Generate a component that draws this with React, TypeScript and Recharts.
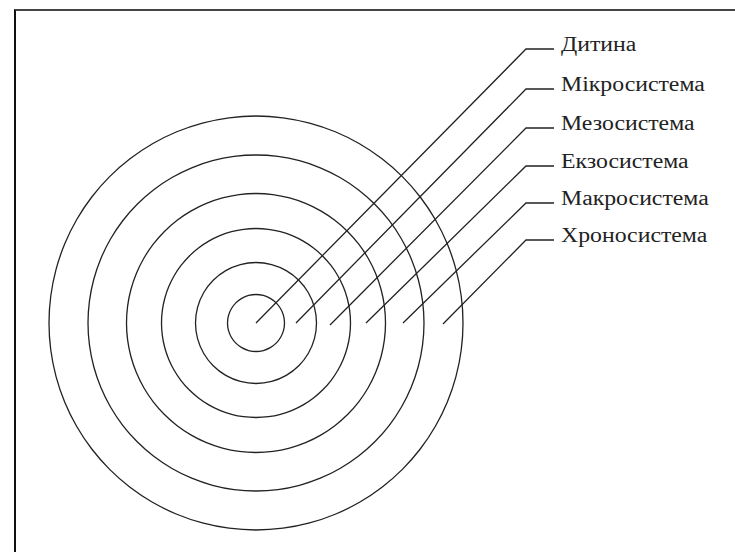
import React from "react";
import { PieChart, Pie, ComposedChart, Line, Scatter, XAxis, YAxis } from "recharts";

const W = 735;
const H = 552;

// systems from the inside out
const systems = [
  "Дитина",
  "Мікросистема",
  "Мезосистема",
  "Екзосистема",
  "Макросистема",
  "Хроносистема",
];
const ringRadii = [28.5, 60.5, 94.5, 129.5, 168, 207];

// leader lines: start on the horizontal through the centre, 45° up to the elbow, then a short tail
const leaderStartX = [0, 40, 74, 110, 147, 187];
const leaderStartY = [0, 0, -2, 0, 0, -1];
const elbowX = 270;
const elbowY = [274, 234, 195, 157, 120, 83];
const tailEndX = 298;

const xDomain = [-256, 479];
const yDomain = [-229, 323];

const INK = "#222";
const RING_HALF_WIDTH = 0.65;

const pxPerUnit = W / (xDomain[1] - xDomain[0]);
const centerX = (0 - xDomain[0]) * pxPerUnit;
const centerY = H - (0 - yDomain[0]) * (H / (yDomain[1] - yDomain[0]));

const rings = systems.map((name, i) => ({ name, r: ringRadii[i], value: 1 }));

const leaders = systems.map((name, i) => [
  { x: leaderStartX[i], y: leaderStartY[i] },
  { x: elbowX, y: elbowY[i] },
  { x: tailEndX, y: elbowY[i] },
]);

const labelData = systems.map((name, i) => ({ x: tailEndX, y: elbowY[i], name }));

const LabelShape = (props: any) => {
  const { cx, cy, payload } = props;
  return (
    <text
      transform={`translate(${cx + 7} ${cy + 1.5}) scale(1.16 1)`}
      fontFamily="'Liberation Serif', 'Times New Roman', serif"
      fontSize={20.5}
      fill={INK}
    >
      {payload.name}
    </text>
  );
};

export default function App() {
  return (
    <div
      style={{
        position: "fixed",
        left: 0,
        top: 0,
        width: W,
        height: H,
        background: "#fff",
      }}
    >
      <div
        style={{
          position: "absolute",
          left: 14,
          top: 9,
          right: 0,
          bottom: 0,
          borderTop: "2px solid #444",
          borderLeft: "2px solid #111",
        }}
      />
      <div style={{ position: "absolute", left: 0, top: 0 }}>
        <PieChart width={W} height={H} margin={{ top: 0, right: 0, bottom: 0, left: 0 }}>
          {rings.map((ring) => (
            <Pie
              key={ring.name}
              data={[ring]}
              dataKey="value"
              nameKey="name"
              cx={centerX}
              cy={centerY}
              innerRadius={ring.r * pxPerUnit - RING_HALF_WIDTH}
              outerRadius={ring.r * pxPerUnit + RING_HALF_WIDTH}
              startAngle={0}
              endAngle={360}
              fill={INK}
              stroke="none"
              label={false}
              labelLine={false}
              isAnimationActive={false}
            />
          ))}
        </PieChart>
      </div>
      <div style={{ position: "absolute", left: 0, top: 0 }}>
        <ComposedChart
          width={W}
          height={H}
          margin={{ top: 0, right: 0, bottom: 0, left: 0 }}
        >
          <XAxis
            type="number"
            dataKey="x"
            domain={xDomain}
            allowDataOverflow
            hide
          />
          <YAxis
            type="number"
            dataKey="y"
            domain={yDomain}
            allowDataOverflow
            hide
          />
          {leaders.map((pts, i) => (
            <Line
              key={systems[i]}
              data={pts}
              dataKey="y"
              type="linear"
              stroke={INK}
              strokeWidth={1.3}
              dot={false}
              activeDot={false}
              isAnimationActive={false}
            />
          ))}
          <Scatter
            data={labelData}
            dataKey="y"
            shape={LabelShape}
            isAnimationActive={false}
          />
        </ComposedChart>
      </div>
    </div>
  );
}
